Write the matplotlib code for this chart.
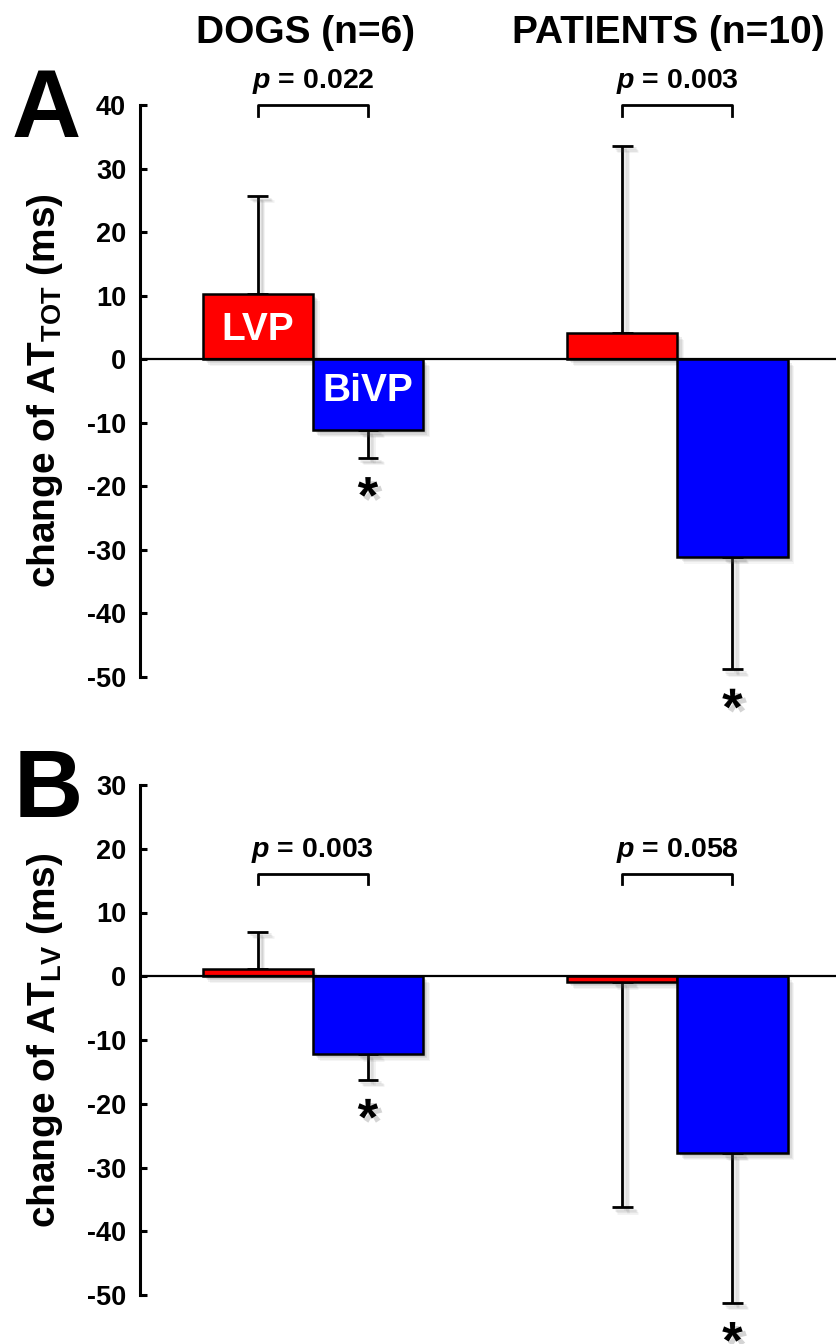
import matplotlib
matplotlib.use("Agg")
import matplotlib.pyplot as plt
import matplotlib.patheffects as pe

plt.rcParams['font.family'] = ['Liberation Sans', 'DejaVu Sans']
plt.rcParams['font.weight'] = 'bold'
plt.rcParams['mathtext.fontset'] = 'custom'
plt.rcParams['mathtext.rm'] = 'Liberation Sans:bold'
plt.rcParams['mathtext.it'] = 'Liberation Sans:italic:bold'
plt.rcParams['mathtext.bf'] = 'Liberation Sans:bold'

# ---------------- data ----------------
groups = ["DOGS (n=6)", "PATIENTS (n=10)"]
series = ["LVP", "BiVP"]
series_colors = ["#FF0000", "#0000FF"]

A_lvp_mean = [10.3, 4.1]
A_lvp_err = [15.4, 29.5]
A_bivp_mean = [-11.2, -31.1]
A_bivp_err = [4.3, 17.7]
A_pvalues = ["0.022", "0.003"]
A_ticks = [40, 30, 20, 10, 0, -10, -20, -30, -40, -50]

B_lvp_mean = [1.1, -0.9]
B_lvp_err = [5.9, 35.3]
B_bivp_mean = [-12.2, -27.8]
B_bivp_err = [4.0, 23.4]
B_pvalues = ["0.003", "0.058"]
B_ticks = [30, 20, 10, 0, -10, -20, -30, -40, -50]

# ---------------- layout ----------------
W, H = 836, 1344
fig = plt.figure(figsize=(W / 100, H / 100), dpi=100)

GROUP_SPACING = 3.31
BAR_W = 1.0
XLIM = (-1.07, 5.25)


def shadow_patch():
    effs = []
    for d, a in [(5, 0.06), (4, 0.08), (3, 0.10), (2, 0.10)]:
        effs.append(pe.SimplePatchShadow(offset=(d, -d), shadow_rgbFace='#555555', alpha=a))
    effs.append(pe.Normal())
    return effs


def shadow_line():
    effs = []
    for d, a in [(4, 0.08), (3, 0.10), (2, 0.12)]:
        effs.append(pe.SimpleLineShadow(offset=(d, -d), shadow_color='#555555', alpha=a))
    effs.append(pe.Normal())
    return effs


def draw_panel(ax, lvp_mean, lvp_err, bivp_mean, bivp_err, pvals, ticks,
               ylab, bracket_y, ptext_y, inside_labels):
    ax.set_xlim(*XLIM)
    ax.set_ylim(min(ticks), max(ticks))
    for s in ['top', 'right', 'bottom']:
        ax.spines[s].set_visible(False)
    ax.spines['left'].set_linewidth(2.2)
    ax.set_xticks([])
    ax.set_yticks(ticks)
    ax.set_yticklabels([str(t) for t in ticks])
    ax.tick_params(axis='y', direction='in', length=5, width=2.2, pad=10,
                   labelsize=19.5)
    for lab in ax.get_yticklabels():
        lab.set_fontweight('bold')
    ax.axhline(0, color='black', lw=1.6, zorder=4)

    means = [lvp_mean, bivp_mean]
    errs = [lvp_err, bivp_err]
    for g in range(len(groups)):
        xs = [g * GROUP_SPACING + k * BAR_W for k in range(2)]
        for k in range(2):
            m = means[k][g]
            e = errs[k][g]
            lo, hi = (e, 0) if m < 0 else (0, e)
            cont = ax.errorbar(xs[k], m, yerr=[[lo], [hi]], fmt='none',
                               ecolor='black', elinewidth=2.0, capsize=7.5,
                               capthick=2.0, zorder=2)
            for art in cont.lines[1]:
                art.set_clip_on(False)
                art.set_path_effects(shadow_line())
            for art in cont.lines[2]:
                art.set_clip_on(False)
                art.set_path_effects(shadow_line())
            b = ax.bar(xs[k], m, width=BAR_W, color=series_colors[k],
                       edgecolor='black', linewidth=1.8, zorder=3)
            for p in b.patches:
                p.set_path_effects(shadow_patch())
        # bracket and p value
        y0 = bracket_y
        drop = (max(ticks) - min(ticks)) * 0.02
        ax.plot([xs[0], xs[0], xs[1], xs[1]], [y0 - drop, y0, y0, y0 - drop],
                color='black', lw=2.0, clip_on=False, zorder=5)
        ax.text((xs[0] + xs[1]) / 2, ptext_y, r'$p$ = ' + pvals[g],
                ha='center', va='baseline', fontsize=20.5, clip_on=False)
        # star under BiVP error bar
        m = bivp_mean[g]
        e = bivp_err[g]
        ax.annotate('*', xy=(xs[1], m - e), xytext=(0, -30),
                    textcoords='offset points', ha='center', va='center',
                    fontsize=38, annotation_clip=False,
                    path_effects=[pe.withSimplePatchShadow(offset=(3, -3), shadow_rgbFace='#555555', alpha=0.25)])
        if inside_labels and g == 0:
            ax.text(xs[0], lvp_mean[g] * 0.45, series[0], color='white',
                    ha='center', va='center', fontsize=28, zorder=6)
            ax.text(xs[1], bivp_mean[g] * 0.45, series[1], color='white',
                    ha='center', va='center', fontsize=28, zorder=6)

    ax.set_ylabel(ylab, fontsize=28, fontweight='bold')
    ax.yaxis.set_label_coords(-0.108, 0.5)


x0 = 140 / W
axA = fig.add_axes([x0, 1 - 677 / H, 1 - x0, (677 - 105) / H])
axB = fig.add_axes([x0, 1 - 1295 / H, 1 - x0, (1295 - 785) / H])
axA.patch.set_alpha(0)
axB.patch.set_alpha(0)

draw_panel(axA, A_lvp_mean, A_lvp_err, A_bivp_mean, A_bivp_err, A_pvalues,
           A_ticks, r'change of AT$_{\mathrm{TOT}}$ (ms)', 40, 42.6, True)
draw_panel(axB, B_lvp_mean, B_lvp_err, B_bivp_mean, B_bivp_err, B_pvalues,
           B_ticks, r'change of AT$_{\mathrm{LV}}$ (ms)', 16, 18.7, False)

# group titles
fig.text(306 / W, 1 - 43 / H, groups[0], ha='center', va='baseline',
         fontsize=28, fontweight='bold')
fig.text(668 / W, 1 - 43 / H, groups[1], ha='center', va='baseline',
         fontsize=28, fontweight='bold')

# panel letters
fig.text(12 / W, 1 - 137 / H, 'A', ha='left', va='baseline', fontsize=69,
         fontweight='bold')
fig.text(14 / W, 1 - 817 / H, 'B', ha='left', va='baseline', fontsize=69,
         fontweight='bold')

fig.savefig('out.png', dpi=100)
